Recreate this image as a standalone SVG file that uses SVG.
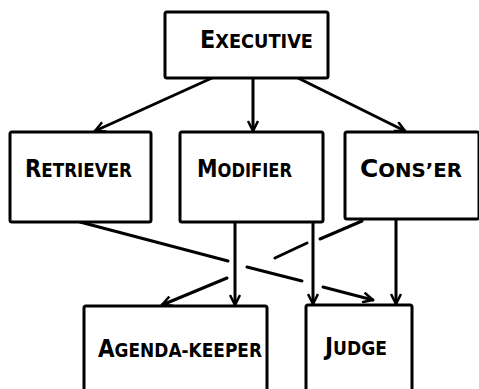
<svg xmlns="http://www.w3.org/2000/svg" width="479" height="389" viewBox="0 0 479 389">
<style>
.box{fill:#fff;stroke:#000;stroke-width:3;}
.lbl{font-family:"DejaVu Sans Condensed","DejaVu Sans",sans-serif;font-weight:bold;fill:#000;}
.big{font-size:24px;}
.sm{font-size:19px;}
.c{fill:none;stroke:#000;stroke-width:3;stroke-linecap:round;}
</style>
<defs>
<marker id="ah" viewBox="0 0 12 12" refX="11" refY="6" markerWidth="12" markerHeight="12" markerUnits="userSpaceOnUse" orient="auto">
<path d="M1,1 L11,6 L1,11" fill="none" stroke="#000" stroke-width="2.5"/>
</marker>
</defs>
<rect width="479" height="389" fill="#fff"/>
<g id="connectors">
<line class="c" x1="212" y1="78" x2="95" y2="131" marker-end="url(#ah)"/>
<line class="c" x1="253" y1="78" x2="253" y2="131" marker-end="url(#ah)"/>
<line class="c" x1="298" y1="78" x2="405" y2="131" marker-end="url(#ah)"/>
<line class="c" x1="235" y1="222" x2="235" y2="305" marker-end="url(#ah)"/>
<line class="c" x1="313" y1="222" x2="313" y2="304" marker-end="url(#ah)"/>
<line class="c" x1="396" y1="220" x2="396" y2="304" marker-end="url(#ah)"/>
<line class="c" x1="80" y1="222" x2="228" y2="261"/>
<line class="c" x1="247" y1="267" x2="302" y2="281"/>
<line class="c" x1="323" y1="287" x2="373" y2="300" marker-end="url(#ah)"/>
<line class="c" x1="362" y1="221" x2="320" y2="239"/>
<line class="c" x1="307" y1="243" x2="275" y2="258"/>
<line class="c" x1="227" y1="278" x2="162" y2="305" marker-end="url(#ah)"/>
</g>
<g id="executive">
<rect class="box" x="165" y="12" width="163" height="66" rx="2"/>
<text class="lbl" x="200" y="48" textLength="113" lengthAdjust="spacingAndGlyphs"><tspan class="big">E</tspan><tspan class="sm">XECUTIVE</tspan></text>
</g>
<g id="retriever">
<rect class="box" x="10" y="132" width="141" height="90" rx="2"/>
<text class="lbl" x="25" y="177" textLength="107" lengthAdjust="spacingAndGlyphs"><tspan class="big">R</tspan><tspan class="sm">ETRIEVER</tspan></text>
</g>
<g id="modifier">
<rect class="box" x="180" y="132" width="143" height="90" rx="2"/>
<text class="lbl" x="197" y="177" textLength="95" lengthAdjust="spacingAndGlyphs"><tspan class="big">M</tspan><tspan class="sm">ODIFIER</tspan></text>
</g>
<g id="conser">
<rect class="box" x="345" y="132" width="134" height="87" rx="2"/>
<text class="lbl" x="360" y="177" textLength="102" lengthAdjust="spacingAndGlyphs"><tspan class="big">C</tspan><tspan class="sm">ONS’ER</tspan></text>
</g>
<g id="agenda-keeper">
<rect class="box" x="84" y="306" width="183" height="95" rx="2"/>
<text class="lbl" x="98" y="357" textLength="164" lengthAdjust="spacingAndGlyphs"><tspan class="big">A</tspan><tspan class="sm">GENDA-KEEPER</tspan></text>
</g>
<g id="judge">
<rect class="box" x="306" y="305" width="106" height="95" rx="2"/>
<text class="lbl" x="325" y="355" textLength="62" lengthAdjust="spacingAndGlyphs"><tspan class="big">J</tspan><tspan class="sm">UDGE</tspan></text>
</g>
</svg>
